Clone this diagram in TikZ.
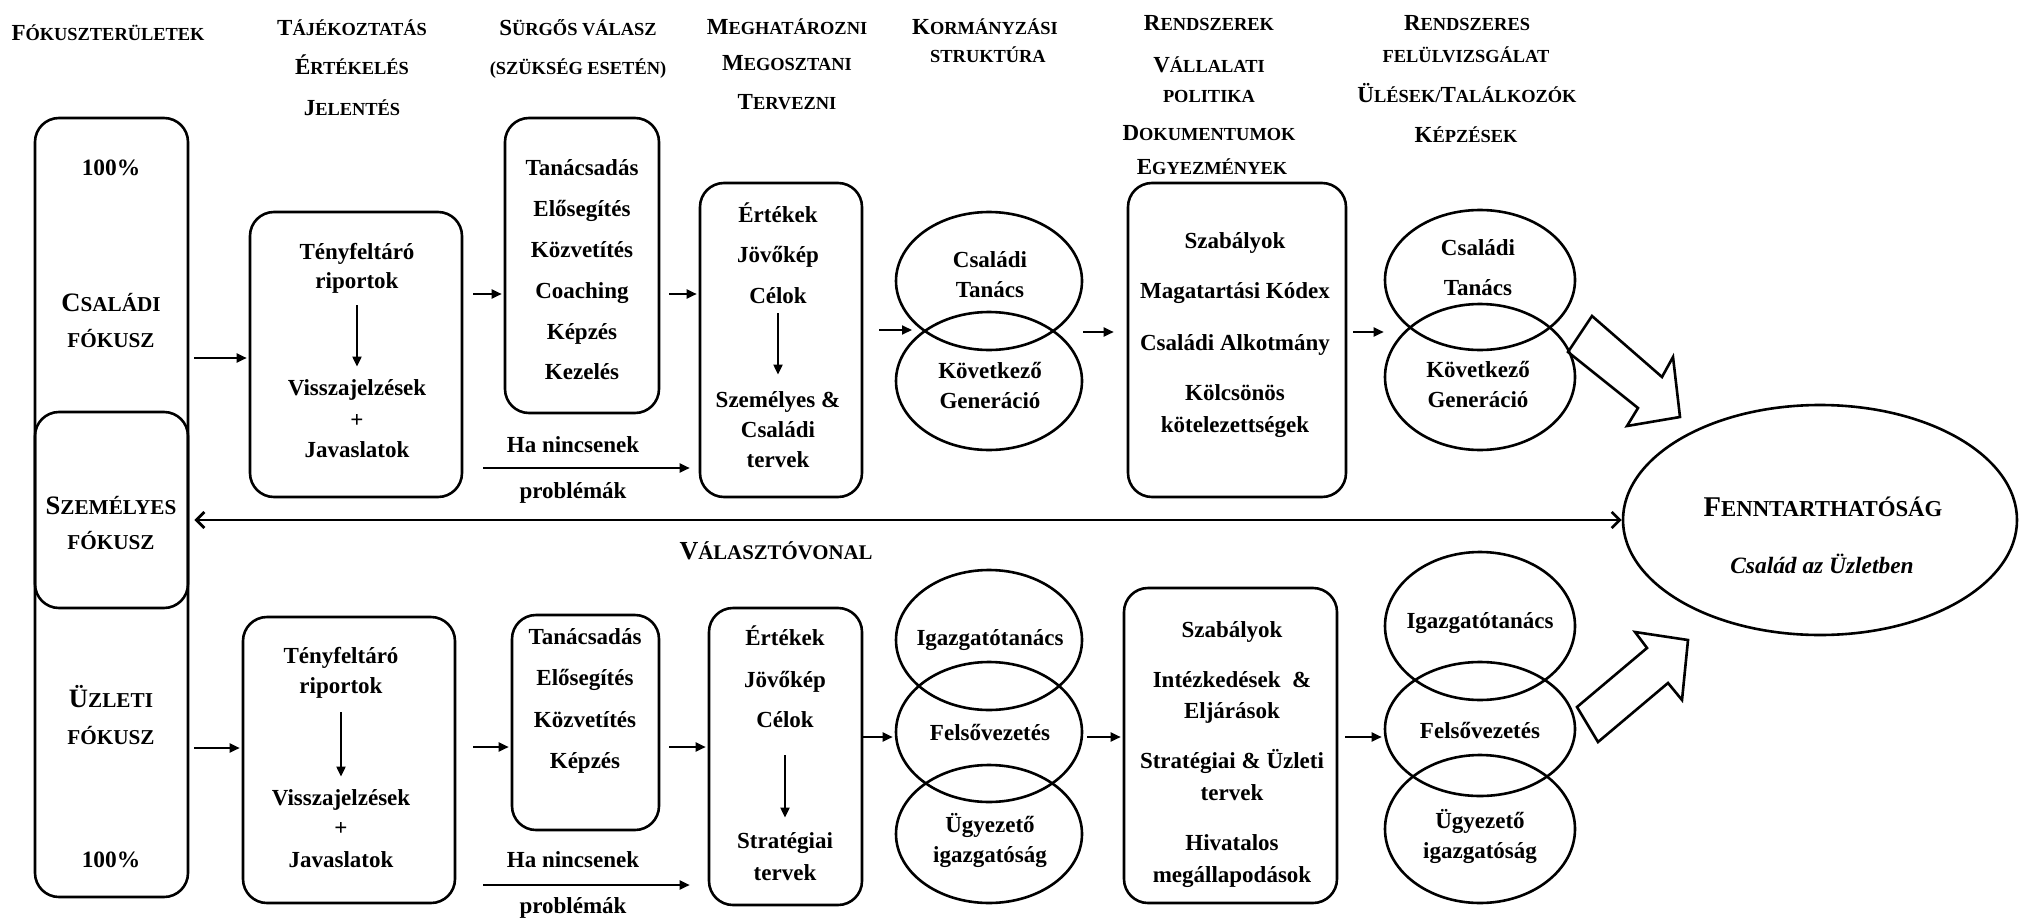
\documentclass[tikz,border=0pt]{standalone}
\usepackage{fontspec}
\setmainfont{Liberation Serif}
\usetikzlibrary{arrows.meta,shapes.geometric,calc}

% hand-made small capitals (Liberation Serif has no real ones)
\newcommand{\capA}[2]{{\fontsize{11.5pt}{12pt}\selectfont #1}{\fontsize{9.2pt}{10pt}\selectfont #2}}
\newcommand{\smA}[1]{{\fontsize{9.2pt}{10pt}\selectfont #1}}
\newcommand{\capB}[2]{{\fontsize{13.3pt}{14pt}\selectfont #1}{\fontsize{10.6pt}{11pt}\selectfont #2}}
\newcommand{\smB}[1]{{\fontsize{10.6pt}{11pt}\selectfont #1}}
\newcommand{\capC}[2]{{\fontsize{13pt}{14pt}\selectfont #1}{\fontsize{10.4pt}{11pt}\selectfont #2}}
\newcommand{\capD}[2]{{\fontsize{14.3pt}{15pt}\selectfont #1}{\fontsize{11.4pt}{12pt}\selectfont #2}}

\tikzset{
  box/.style={draw, line width=1.3pt, rounded corners=12pt, inner sep=0pt},
  oval/.style={draw, ellipse, line width=1.3pt, inner sep=0pt},
  txt/.style={font=\bfseries\fontsize{11.5pt}{13pt}\selectfont, inner sep=0pt, text height=8pt, text depth=2.5pt},
  hdr/.style={font=\bfseries, inner sep=0pt, text height=8pt, text depth=0.5pt},
  side/.style={font=\bfseries, inner sep=0pt, text height=9.5pt, text depth=0.5pt},
  bigtitle/.style={font=\bfseries, inner sep=0pt, text height=10pt, text depth=0.5pt},
  conn/.style={line width=1pt, -{Triangle[length=5pt,width=4.5pt]}},
  sepline/.style={line width=1.4pt, {Straight Barb[length=4pt,width=8pt]}-{Straight Barb[length=4pt,width=8pt]}},
  hollow/.style={draw, line width=1.3pt, line join=miter},
}

\begin{document}
\begin{tikzpicture}[x=0.5pt,y=-0.5pt]
\fill[white] (0,0) rectangle (2019,921);
\useasboundingbox (0,0) rectangle (2019,921);

% heights of the horizontal connectors
\coordinate (r358) at (0,358);
\coordinate (r748) at (0,748);
\coordinate (r294) at (0,294);
\coordinate (r747) at (0,747);
\coordinate (r330) at (0,330);
\coordinate (r332) at (0,332);
\coordinate (r737) at (0,737);
\coordinate (r468) at (0,468);
\coordinate (r885) at (0,885);
\coordinate (r520) at (0,520);
\coordinate (tipA) at (912,330);

% ---------- column headings ----------
\node[hdr] (h1) at (108,33) {\capA{F}{ÓKUSZTERÜLETEK}};
\node[hdr] (h2a) at (352,28) {\capA{T}{ÁJÉKOZTATÁS}};
\node[hdr] (h2b) at (352,67) {\capA{É}{RTÉKELÉS}};
\node[hdr] (h2c) at (352,108) {\capA{J}{ELENTÉS}};
\node[hdr] (h3a) at (578,28) {\capA{S}{ÜRGŐS VÁLASZ}};
\node[hdr] (h3b) at (578,67) {\smA{(SZÜKSÉG ESETÉN)}};
\node[hdr] (h4a) at (787,27) {\capA{M}{EGHATÁROZNI}};
\node[hdr] (h4b) at (787,63) {\capA{M}{EGOSZTANI}};
\node[hdr] (h4c) at (787,102) {\capA{T}{ERVEZNI}};
\node[hdr] (h5a) at (985,27) {\capA{K}{ORMÁNYZÁSI}};
\node[hdr] (h5b) at (988,55) {\smA{STRUKTÚRA}};
\node[hdr] (h6a) at (1209,23) {\capA{R}{ENDSZEREK}};
\node[hdr] (h6b) at (1209,65) {\capA{V}{ÁLLALATI}};
\node[hdr] (h6c) at (1209,95) {\smA{POLITIKA}};
\node[hdr] (h6d) at (1209,133) {\capA{D}{OKUMENTUMOK}};
\node[hdr] (h6e) at (1212,167) {\capA{E}{GYEZMÉNYEK}};
\node[hdr] (h7a) at (1467,23) {\capA{R}{ENDSZERES}};
\node[hdr] (h7b) at (1466,55) {\smA{FELÜLVIZSGÁLAT}};
\node[hdr] (h7c) at (1467,95) {\capA{Ü}{LÉSEK/}\capA{T}{ALÁLKOZÓK}};
\node[hdr] (h7d) at (1466,135) {\capA{K}{ÉPZÉSEK}};

% ---------- focus column ----------
\node[box, minimum width=76.5pt, minimum height=389.5pt] (focus) at (111.5,507.5) {};
\node[box, minimum width=76.5pt, minimum height=98pt] (pers) at (111.5,510) {};
\node[txt, font=\bfseries\fontsize{11.7pt}{13pt}\selectfont] (l1) at (111,170) {100\%};
\node[side] (l2a) at (111,302) {\capB{C}{SALÁDI}};
\node[side] (l2b) at (111,338) {\smB{FÓKUSZ}};
\node[side] (l3a) at (111,505) {\capB{S}{ZEMÉLYES}};
\node[side] (l3b) at (111,540) {\smB{FÓKUSZ}};
\node[side] (l4a) at (111,698) {\capB{Ü}{ZLETI}};
\node[side] (l4b) at (111,735) {\smB{FÓKUSZ}};
\node[txt, font=\bfseries\fontsize{11.7pt}{13pt}\selectfont] (l5) at (111,862) {100\%};

% ---------- family row ----------
\node[box, minimum width=106pt, minimum height=142.5pt] (t1) at (356,354.5) {};
\node[txt] (t1a) at (357,254) {Tényfeltáró};
\node[txt] (t1b) at (357,283) {riportok};
\node[txt] (t1c) at (357,390) {Visszajelzések};
\node[txt] (t1d) at (357,422) {+};
\node[txt] (t1e) at (357,452) {Javaslatok};

\node[box, minimum width=77pt, minimum height=147.5pt] (s1) at (582,265.5) {};
\node[txt] (s1a) at (582,170) {Tanácsadás};
\node[txt] (s1b) at (582,211) {Elősegítés};
\node[txt] (s1c) at (582,252) {Közvetítés};
\node[txt] (s1d) at (582,293) {Coaching};
\node[txt] (s1e) at (582,334) {Képzés};
\node[txt] (s1f) at (582,374) {Kezelés};
\node[txt] (n1a) at (573,447) {Ha nincsenek};
\node[txt] (n1b) at (573,493) {problémák};

\node[box, minimum width=81pt, minimum height=157pt] (m1) at (781,340) {};
\node[txt] (m1a) at (778,217) {Értékek};
\node[txt] (m1b) at (778,257) {Jövőkép};
\node[txt] (m1c) at (778,298) {Célok};
\node[txt] (m1d) at (778,402) {Személyes \&};
\node[txt] (m1e) at (778,432) {Családi};
\node[txt] (m1f) at (778,462) {tervek};

\node[oval, minimum width=93pt, minimum height=69pt] (ea1) at (989,281) {};
\node[oval, minimum width=93pt, minimum height=69pt] (eb1) at (989,381) {};
\node[txt] (ea1a) at (990,262) {Családi};
\node[txt] (ea1b) at (990,292) {Tanács};
\node[txt] (eb1a) at (990,373) {Következő};
\node[txt] (eb1b) at (990,403) {Generáció};

\node[box, minimum width=109pt, minimum height=157pt] (r1) at (1237,340) {};
\node[txt] (r1a) at (1235,243) {Szabályok};
\node[txt] (r1b) at (1235,293) {Magatartási Kódex};
\node[txt] (r1c) at (1235,345) {Családi Alkotmány};
\node[txt] (r1d) at (1235,395) {Kölcsönös};
\node[txt] (r1e) at (1235,427) {kötelezettségek};

\node[oval, minimum width=95pt, minimum height=70pt] (fa1) at (1480,280) {};
\node[oval, minimum width=95pt, minimum height=73pt] (fb1) at (1480,377) {};
\node[txt] (fa1a) at (1478,250) {Családi};
\node[txt] (fa1b) at (1478,290) {Tanács};
\node[txt] (fb1a) at (1478,372) {Következő};
\node[txt] (fb1b) at (1478,402) {Generáció};

% ---------- business row ----------
\node[box, minimum width=106pt, minimum height=143pt] (t2) at (349,760) {};
\node[txt] (t2a) at (341,658) {Tényfeltáró};
\node[txt] (t2b) at (341,688) {riportok};
\node[txt] (t2c) at (341,800) {Visszajelzések};
\node[txt] (t2d) at (341,830) {+};
\node[txt] (t2e) at (341,862) {Javaslatok};

\node[box, minimum width=73.5pt, minimum height=107.5pt] (s2) at (585.5,722.5) {};
\node[txt] (s2a) at (585,639) {Tanácsadás};
\node[txt] (s2b) at (585,680) {Elősegítés};
\node[txt] (s2c) at (585,722) {Közvetítés};
\node[txt] (s2d) at (585,763) {Képzés};
\node[txt] (n2a) at (573,862) {Ha nincsenek};
\node[txt] (n2b) at (573,908) {problémák};

\node[box, minimum width=76.5pt, minimum height=148.5pt] (m2) at (785.5,756.5) {};
\node[txt] (m2a) at (785,640) {Értékek};
\node[txt] (m2b) at (785,682) {Jövőkép};
\node[txt] (m2c) at (785,722) {Célok};
\node[txt] (m2d) at (785,843) {Stratégiai};
\node[txt] (m2e) at (785,875) {tervek};

\node[oval, minimum width=93pt, minimum height=70pt] (ea2) at (989,640) {};
\node[oval, minimum width=93pt, minimum height=70pt] (eb2) at (989,732) {};
\node[oval, minimum width=93pt, minimum height=69pt] (ec2) at (989,834) {};
\node[txt] (ea2a) at (990,640) {Igazgatótanács};
\node[txt] (eb2a) at (990,735) {Felsővezetés};
\node[txt] (ec2a) at (990,827) {Ügyezető};
\node[txt] (ec2b) at (990,857) {igazgatóság};

\node[box, minimum width=106.5pt, minimum height=157.5pt] (r2) at (1230.5,745.5) {};
\node[txt] (r2a) at (1232,632) {Szabályok};
\node[txt] (r2b) at (1232,682) {Intézkedések~~\&};
\node[txt] (r2c) at (1232,713) {Eljárások};
\node[txt] (r2d) at (1232,763) {Stratégiai \& Üzleti};
\node[txt] (r2e) at (1232,795) {tervek};
\node[txt] (r2f) at (1232,845) {Hivatalos};
\node[txt] (r2g) at (1232,877) {megállapodások};

\node[oval, minimum width=95pt, minimum height=74pt] (fa2) at (1480,626) {};
\node[oval, minimum width=95pt, minimum height=67pt] (fb2) at (1480,729) {};
\node[oval, minimum width=95pt, minimum height=74pt] (fc2) at (1480,829) {};
\node[txt] (fa2a) at (1480,623) {Igazgatótanács};
\node[txt] (fb2a) at (1480,733) {Felsővezetés};
\node[txt] (fc2a) at (1480,823) {Ügyezető};
\node[txt] (fc2b) at (1480,853) {igazgatóság};

% ---------- dividing line and goal ----------
\node[bigtitle] (sepl) at (776,550) {\capC{V}{ÁLASZTÓVONAL}};
\node[oval, minimum width=197pt, minimum height=115pt] (sust) at (1820,520) {};
\node[bigtitle] (sust-a) at (1823,507) {\capD{F}{ENNTARTHATÓSÁG}};
\node[txt, font=\bfseries\itshape\fontsize{11.7pt}{13pt}\selectfont] (sust-b) at (1822,568) {Család az Üzletben};

% ---------- connectors ----------
\draw[conn, shorten <=2.5pt, shorten >=1pt] (focus.east |- r358) -- (t1.west |- r358);
\draw[conn, shorten <=2.5pt, shorten >=1pt] (focus.east |- r748) -- (t2.west |- r748);
\draw[conn, shorten <=5pt, shorten >=1pt] (t1.east |- r294) -- (s1.west |- r294);
\draw[conn, shorten <=8.5pt, shorten >=1pt] (t2.east |- r747) -- (s2.west |- r747);
\draw[conn, shorten <=4.5pt, shorten >=1pt] (s1.east |- r294) -- (m1.west |- r294);
\draw[conn, shorten <=4.5pt, shorten >=1pt] (s2.east |- r747) -- (m2.west |- r747);
\draw[conn, shorten <=8pt] (m1.east |- r330) -- (tipA);
\draw[conn, shorten >=1pt] (m2.east |- r737) -- (eb2.west |- r737);
\draw[conn, shorten >=6.5pt] (ea1.east |- r332) -- (r1.west |- r332);
\draw[conn, shorten <=2pt, shorten >=1pt] (eb2.east |- r737) -- (r2.west |- r737);
\draw[conn, shorten <=3pt] (r1.east |- r332) -- (fb1.west |- r332);
\draw[conn, shorten <=3.5pt, shorten >=1pt] (r2.east |- r737) -- (fb2.west |- r737);
\draw[conn, shorten <=10pt, shorten >=4.5pt] (t1.east |- r468) -- (m1.west |- r468);
\draw[conn, shorten <=13.5pt, shorten >=9pt] (t2.east |- r885) -- (m2.west |- r885);

% arrows inside the boxes
\draw[conn, shorten <=5.75pt, shorten >=6.25pt] (t1b) -- (t1c);
\draw[conn, shorten <=6.75pt, shorten >=6.25pt] (t2b) -- (t2c);
\draw[conn, shorten <=2.25pt, shorten >=8.25pt] (m1c) -- (m1d);
\draw[conn, shorten <=11.25pt, shorten >=7.25pt] (m2c) -- (m2d);

% dividing line between the two halves
\draw[sepline, shorten <=2.5pt] (pers.east |- r520) -- (sust.west);

% hollow block arrows towards the goal
\draw[hollow] (1568,352) -- (1592,316) -- (1662,377) -- (1673,357) -- (1680,417) -- (1627,426) -- (1638,408) -- cycle;
\draw[hollow] (1598,742) -- (1577,707) -- (1647,648) -- (1635,632) -- (1688,640) -- (1682,700) -- (1668,683) -- cycle;
\end{tikzpicture}
\end{document}
